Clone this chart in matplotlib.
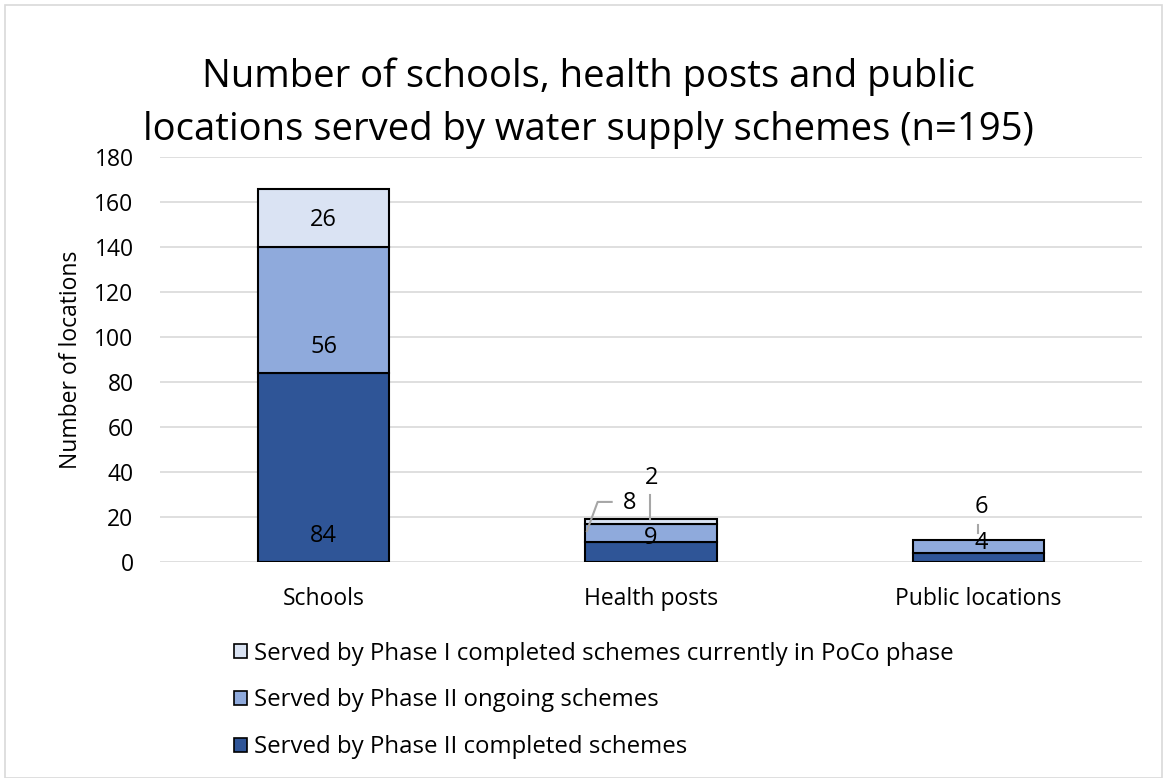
import matplotlib
matplotlib.use("Agg")
import matplotlib.pyplot as plt
from matplotlib.patches import Patch, Rectangle
import numpy as np

plt.rcParams['font.family'] = ['Open Sans', 'DejaVu Sans']

categories = ["Schools", "Health posts", "Public locations"]
phase2_completed = [84, 9, 4]
phase2_ongoing = [56, 8, 6]
phase1_poco = [26, 2, 0]
series_labels = ["Served by Phase I completed schemes currently in PoCo phase",
                 "Served by Phase II ongoing schemes",
                 "Served by Phase II completed schemes"]
yticks = [0, 20, 40, 60, 80, 100, 120, 140, 160, 180]

c_dark = "#2F5597"
c_mid = "#8FAADC"
c_light = "#DAE3F3"

fig = plt.figure(figsize=(11.69, 7.78), dpi=100)
W, H = 1169, 778
ax = fig.add_axes([160 / W, 1 - 562 / H, (1142 - 160) / W, (562 - 157) / H])

x = np.arange(len(categories))
b1 = np.array(phase2_completed)
b2 = np.array(phase2_ongoing)
b3 = np.array(phase1_poco)
bw = 0.402
ax.bar(x, b1, bw, color=c_dark, edgecolor="black", linewidth=1.5, zorder=3)
ax.bar(x, b2, bw, bottom=b1, color=c_mid, edgecolor="black", linewidth=1.5, zorder=3)
ax.bar(x[b3 > 0], b3[b3 > 0], bw, bottom=(b1 + b2)[b3 > 0], color=c_light,
       edgecolor="black", linewidth=1.5, zorder=3)

ax.set_xlim(-0.5, 2.5)
ax.set_ylim(0, 180)
ax.set_yticks(yticks)
ax.set_yticklabels([str(v) for v in yticks], fontsize=16.5)
ax.set_xticks(x)
ax.set_xticklabels(categories, fontsize=16.5)
ax.tick_params(axis='y', length=0, pad=19)
ax.tick_params(axis='x', length=0, pad=18)
ax.grid(axis='y', color="#D9D9D9", linewidth=1.2, zorder=0)
for s in ax.spines.values():
    s.set_visible(False)
ax.set_ylabel("Number of locations", fontsize=16.5, labelpad=8)

lab_kw = dict(ha='center', va='center', fontsize=17, color="black", zorder=5)
# Schools labels
ax.text(x[0], 152, str(phase1_poco[0]), **lab_kw)
ax.text(x[0], 95.5, str(phase2_ongoing[0]), **lab_kw)
ax.text(x[0], 11.5, str(phase2_completed[0]), **lab_kw)
# Health posts labels
ax.text(x[1], 10.5, str(phase2_completed[1]), **lab_kw)
ax.text(x[1] - 0.066, 26.2, str(phase2_ongoing[1]), **lab_kw)
ax.text(x[1] + 0.003, 37.5, str(phase1_poco[1]), **lab_kw)
# Public locations labels
ax.text(x[2] + 0.01, 8.6, str(phase2_completed[2]), **lab_kw)
ax.text(x[2] + 0.01, 24.6, str(phase2_ongoing[2]), **lab_kw)

# leader lines
lc = "#A6A6A6"
ax.plot([x[1] - 0.117, x[1] - 0.163, x[1] - 0.197], [26.7, 26.7, 13.3],
        color=lc, linewidth=1.5, zorder=4, solid_capstyle='butt')
ax.plot([x[1] - 0.003, x[1] - 0.003], [29.8, 19.3], color=lc, linewidth=1.5, zorder=4)
ax.plot([x[2], x[2]], [16.5, 13.0], color=lc, linewidth=1.5, zorder=4)

fig.text(588 / W, 1 - 103 / H,
         "Number of schools, health posts and public\nlocations served by water supply schemes (n=195)",
         ha='center', va='center', fontsize=27.5, linespacing=1.5)

handles = [Patch(facecolor=c_light, edgecolor="black", linewidth=1.2),
           Patch(facecolor=c_mid, edgecolor="black", linewidth=1.2),
           Patch(facecolor=c_dark, edgecolor="black", linewidth=1.2)]
fig.legend(handles, series_labels, loc='upper left',
           bbox_to_anchor=(224 / W, 1 - 632 / H), frameon=False, fontsize=17.3,
           handlelength=0.55, handleheight=0.55, handletextpad=0.3,
           labelspacing=0.95, borderaxespad=0)

fig.add_artist(Rectangle((5 / W, 0), (1162 - 5) / W, (778 - 5) / H,
                         transform=fig.transFigure, fill=False,
                         edgecolor="#D9D9D9", linewidth=1.2))

fig.savefig("out.png", dpi=100)
